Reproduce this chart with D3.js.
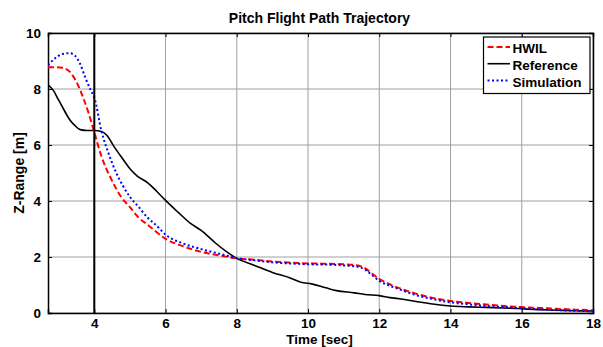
<!DOCTYPE html>
<html><head><meta charset="utf-8">
<script src="https://cdn.jsdelivr.net/npm/d3@7"></script>
<style>body{margin:0;background:#fff}svg{display:block}text{font-family:Arial,"Liberation Sans",sans-serif;font-weight:bold}</style>
</head><body><svg id="c" width="603" height="347"></svg>
<script>
const xTicks = [4, 6, 8, 10, 12, 14, 16, 18];
const yTicks = [0, 2, 4, 6, 8, 10];
const hwilT = [2.7,2.9,3.1,3.3,3.5,3.7,3.85,4.0,4.2,4.5,4.75,5.0,5.25,5.5,6.0,6.5,7.0,7.5,8.0,8.5,9,9.5,10,10.5,11,11.4,11.6,11.8,12.0,12.3,12.6,13,13.5,14,14.5,15,15.5,16,16.5,17,17.5,18];
const hwilV = [8.78,8.78,8.76,8.63,8.25,7.65,7.1,6.45,5.6,4.72,4.15,3.78,3.4,3.15,2.65,2.38,2.18,2.06,1.95,1.9,1.84,1.8,1.77,1.76,1.74,1.7,1.6,1.4,1.22,1.02,0.87,0.7,0.54,0.43,0.36,0.3,0.25,0.21,0.18,0.15,0.12,0.1];
const simT = [2.7,2.9,3.1,3.3,3.45,3.6,3.75,3.9,4.0,4.2,4.4,4.6,4.8,5.0,5.25,5.5,5.75,6.0,6.5,7.0,7.5,8.0,8.5,9,9.5,10,10.5,11,11.4,11.6,11.8,12,12.3,12.6,13,13.5,14,14.5,15,15.5,16,16.5,17,17.5,18];
const simV = [8.85,9.1,9.25,9.28,9.2,8.9,8.4,7.95,7.7,6.5,5.7,5.05,4.55,4.15,3.78,3.4,3.12,2.8,2.48,2.28,2.12,1.96,1.88,1.81,1.77,1.74,1.73,1.7,1.65,1.55,1.35,1.15,0.97,0.83,0.65,0.5,0.38,0.31,0.25,0.21,0.17,0.13,0.1,0.08,0.06];
const refT = [2.7,2.85,3.0,3.15,3.3,3.45,3.6,3.8,4.0,4.2,4.35,4.55,4.8,5.0,5.2,5.5,5.75,6.0,6.35,6.7,7.0,7.4,7.7,8.0,8.5,9.0,9.5,9.8,10.1,10.5,10.8,11.3,11.6,12,12.3,12.6,13,13.5,14,14.5,15,15.5,16,16.5,17,17.5,18];
const refV = [8.15,7.95,7.6,7.25,6.92,6.7,6.55,6.52,6.52,6.48,6.35,5.95,5.5,5.15,4.9,4.65,4.35,4.02,3.6,3.2,2.95,2.5,2.2,1.95,1.7,1.45,1.25,1.1,1.04,0.9,0.8,0.72,0.66,0.62,0.55,0.5,0.42,0.32,0.25,0.22,0.2,0.18,0.15,0.12,0.1,0.08,0.07];
const refLineT = 4;

const L=48, T=33, R=593, B=313;
const svg = d3.select("#c");
const x = d3.scaleLinear().domain([2.7,18]).range([L,R]);
const y = d3.scaleLinear().domain([0,10]).range([B,T]);

// grid
const g = svg.append("g");
g.selectAll(".gx").data(xTicks).join("line").attr("x1",d=>x(d)).attr("x2",d=>x(d)).attr("y1",T).attr("y2",B).attr("stroke","#a0a0a0").attr("stroke-width",1);
g.selectAll(".gy").data(yTicks).join("line").attr("y1",d=>y(d)).attr("y2",d=>y(d)).attr("x1",L).attr("x2",R).attr("stroke","#a0a0a0").attr("stroke-width",1);

// axes
const ax = svg.append("g").attr("transform",`translate(0,${B})`).call(d3.axisBottom(x).tickValues(xTicks).tickSize(-4).tickPadding(7).tickFormat(d3.format("d")));
const axT = svg.append("g").attr("transform",`translate(0,${T})`).call(d3.axisTop(x).tickValues(xTicks).tickSize(-4).tickFormat(""));
const ay = svg.append("g").attr("transform",`translate(${L},0)`).call(d3.axisLeft(y).tickValues(yTicks).tickSize(-4).tickPadding(7).tickFormat(d3.format("d")));
const ayR = svg.append("g").attr("transform",`translate(${R},0)`).call(d3.axisRight(y).tickValues(yTicks).tickSize(-4).tickFormat(""));
[ax,axT,ay,ayR].forEach(a=>{a.select(".domain").attr("stroke","#000").attr("stroke-width",1.5);a.selectAll(".tick line").attr("stroke","#000");a.selectAll("text").attr("font-size",13.5).attr("font-weight","bold").attr("fill","#000").attr("font-family","Arial, Liberation Sans, sans-serif");});
ax.selectAll(".tick text").attr("dy",null).attr("y",14.8);

svg.append("clipPath").attr("id","cp").append("rect").attr("x",L).attr("y",T).attr("width",R-L).attr("height",B-T);
const pl = svg.append("g").attr("clip-path","url(#cp)");

const line = d3.line().x(d=>x(d[0])).y(d=>y(d[1])).curve(d3.curveMonotoneX);
pl.append("path").datum(refT.map((t,i)=>[t,refV[i]])).attr("d",line).attr("fill","none").attr("stroke","#000").attr("stroke-width",1.6);
pl.append("path").datum(hwilT.map((t,i)=>[t,hwilV[i]])).attr("d",line).attr("fill","none").attr("stroke","#ff0000").attr("stroke-width",2).attr("stroke-dasharray","6,3");
pl.append("path").datum(simT.map((t,i)=>[t,simV[i]])).attr("d",line).attr("fill","none").attr("stroke","#0000ff").attr("stroke-width",2).attr("stroke-dasharray","2,2.5");

// vertical reference line
pl.append("line").attr("x1",x(refLineT)).attr("x2",x(refLineT)).attr("y1",T).attr("y2",B).attr("stroke","#000").attr("stroke-width",2);

// title & labels
svg.append("text").attr("x",319.5).attr("y",22.5).attr("text-anchor","middle").attr("font-size",14).text("Pitch Flight Path Trajectory");
svg.append("text").attr("x",319.5).attr("y",343.5).attr("text-anchor","middle").attr("font-size",13.5).text("Time [sec]");
svg.append("text").attr("transform",`translate(23.5,${(T+B)/2}) rotate(-90)`).attr("text-anchor","middle").attr("font-size",14).text("Z-Range [m]");

// legend
const series = [
  {name:"HWIL", color:"#ff0000", dash:"6,3", w:2},
  {name:"Reference", color:"#000", dash:null, w:1.6},
  {name:"Simulation", color:"#0000ff", dash:"2,2.5", w:2}
];
const lg = svg.append("g");
lg.append("rect").attr("x",483.5).attr("y",37).attr("width",106.5).attr("height",56.5).attr("fill","#fff").attr("stroke","#000").attr("stroke-width",1.2);
series.forEach((s,i)=>{
  const yy = 47 + i*16.7;
  lg.append("line").attr("x1",487.5).attr("x2",510).attr("y1",yy).attr("y2",yy).attr("stroke",s.color).attr("stroke-width",s.w).attr("stroke-dasharray",s.dash);
  lg.append("text").attr("x",512.5).attr("y",yy+6.3).attr("font-size",13.5).text(s.name);
});
</script></body></html>
